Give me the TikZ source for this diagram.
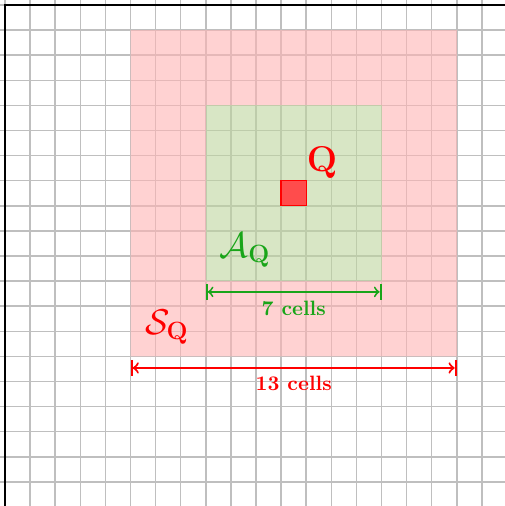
\documentclass[tikz,border=0pt]{standalone}
\usepackage{amsmath}
\definecolor{searchfill}{RGB}{255,180,180}
\definecolor{anchorfill}{RGB}{190,213,158}
\definecolor{anchorgreen}{RGB}{25,165,25}
\begin{document}
\begin{tikzpicture}[x=0.425cm,y=-0.425cm,
  gridline/.style={line width=0.7pt,black!25,xstep=0.425cm,ystep=0.425cm},
  redarrow/.style={|<->|,line width=1pt,red},
  greenarrow/.style={|<->|,line width=0.9pt,anchorgreen}]
\useasboundingbox (-0.2,-0.2) rectangle (19.92,19.96);
\clip (-0.2,-0.2) rectangle (19.92,19.96);
% grid
\draw[gridline] (-0.2,-0.2) grid (19.92,19.96);
% regions
\fill[searchfill,opacity=0.6,even odd rule] (5,1) rectangle (18,14) (8,4) rectangle (15,11);
\fill[anchorfill,opacity=0.6] (8,4) rectangle (15,11);
% query cell
\draw[red,fill=red!70,line width=0.6pt] (11,7) rectangle (12,8);
\node[red] (q) at (12.63,6.29) {\LARGE$\mathbf{Q}$};
\node[anchorgreen] (aq) at (9.56,9.76) {\LARGE$\mathcal{A}_{\mathbf{Q}}$};
\node[red] (sq) at (6.45,12.83) {\LARGE$\mathcal{S}_{\mathbf{Q}}$};
% sizes
\coordinate (a-left) at (8,11.43);
\coordinate (a-right) at (15,11.43);
\draw[greenarrow] (a-left) -- (a-right);
\node[anchorgreen] (a-size) at (11.5,12.07) {\textbf{7 cells}};
\coordinate (s-left) at (5,14.46);
\coordinate (s-right) at (18,14.46);
\draw[redarrow] (s-left) -- (s-right);
\node[red] (s-size) at (11.5,15.06) {\textbf{13 cells}};
% frame
\draw[line width=1.4pt] (0,19.96) -- (0,0) -- (19.92,0);
\end{tikzpicture}
\end{document}
